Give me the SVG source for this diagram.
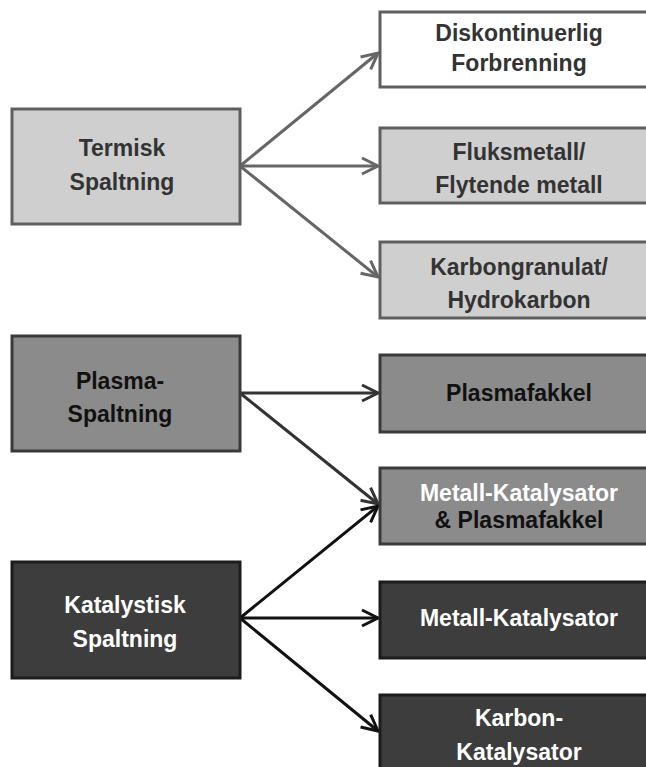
<svg xmlns="http://www.w3.org/2000/svg" width="646" height="767" viewBox="0 0 646 767">
<style>
text{font-family:"Liberation Sans",Arial,sans-serif;font-weight:bold;font-size:23px;text-anchor:middle}
.l rect{fill:#cfcfcf;stroke:#5f5f5f;stroke-width:3}
.w rect{fill:#ffffff;stroke:#5f5f5f;stroke-width:3}
.m rect{fill:#8b8b8b;stroke:#3a3a3a;stroke-width:3}
.d rect{fill:#3d3d3d;stroke:#1c1c1c;stroke-width:3}
.l text,.w text{fill:#333333}
.m text{fill:#111111}
.d text,.m text.wt{fill:#ffffff}
.c1{stroke:#666666;stroke-width:3;fill:none}
.c2{stroke:#333333;stroke-width:3;fill:none}
.c3{stroke:#111111;stroke-width:3;fill:none}
</style>
<defs>
<marker id="a1" markerUnits="userSpaceOnUse" markerWidth="24" markerHeight="24" refX="20" refY="12" orient="auto" viewBox="0 0 24 24"><path d="M4,4 L20,12 L4,20" fill="none" stroke="#666666" stroke-width="3"/></marker>
<marker id="a2" markerUnits="userSpaceOnUse" markerWidth="24" markerHeight="24" refX="20" refY="12" orient="auto" viewBox="0 0 24 24"><path d="M4,4 L20,12 L4,20" fill="none" stroke="#333333" stroke-width="3"/></marker>
<marker id="a3" markerUnits="userSpaceOnUse" markerWidth="24" markerHeight="24" refX="20" refY="12" orient="auto" viewBox="0 0 24 24"><path d="M4,4 L20,12 L4,20" fill="none" stroke="#111111" stroke-width="3"/></marker>
</defs>
<rect width="646" height="767" fill="#ffffff"/>
<g id="connectors">
<line class="c1" x1="240" y1="166" x2="378" y2="53" marker-end="url(#a1)"/>
<line class="c1" x1="240" y1="166" x2="378" y2="166" marker-end="url(#a1)"/>
<line class="c1" x1="240" y1="166" x2="378" y2="277" marker-end="url(#a1)"/>
<line class="c2" x1="240" y1="393" x2="378" y2="393" marker-end="url(#a2)"/>
<line class="c2" x1="240" y1="393" x2="378" y2="504" marker-end="url(#a2)"/>
<line class="c3" x1="240" y1="618" x2="378" y2="506" marker-end="url(#a3)"/>
<line class="c3" x1="240" y1="618" x2="378" y2="618" marker-end="url(#a3)"/>
<line class="c3" x1="240" y1="618" x2="378" y2="731" marker-end="url(#a3)"/>
</g>
<g id="termisk" class="l"><rect x="12" y="109" width="228" height="115"/><text x="122" y="156">Termisk</text><text x="122" y="190">Spaltning</text></g>
<g id="diskontinuerlig" class="w"><rect x="380" y="12" width="272" height="75"/><text x="519" y="41">Diskontinuerlig</text><text x="519" y="71">Forbrenning</text></g>
<g id="fluksmetall" class="l"><rect x="380" y="128" width="272" height="75"/><text x="519" y="160">Fluksmetall/</text><text x="519" y="193">Flytende metall</text></g>
<g id="karbongranulat" class="l"><rect x="380" y="242" width="272" height="76"/><text x="519" y="275">Karbongranulat/</text><text x="519" y="308">Hydrokarbon</text></g>
<g id="plasma" class="m"><rect x="12" y="336" width="228" height="115"/><text x="120" y="389">Plasma-</text><text x="120" y="422">Spaltning</text></g>
<g id="plasmafakkel" class="m"><rect x="380" y="355" width="272" height="77"/><text x="519" y="401">Plasmafakkel</text></g>
<g id="metall-plasma" class="m"><rect x="380" y="468" width="272" height="76"/><text class="wt" x="519" y="501">Metall-Katalysator</text><text x="519" y="528">&amp; Plasmafakkel</text></g>
<g id="katalystisk" class="d"><rect x="12" y="562" width="228" height="116"/><text x="125" y="613">Katalystisk</text><text x="125" y="647">Spaltning</text></g>
<g id="metall-katalysator" class="d"><rect x="380" y="582" width="272" height="76"/><text x="519" y="626">Metall-Katalysator</text></g>
<g id="karbon-katalysator" class="d"><rect x="380" y="695" width="272" height="95"/><text x="519" y="726">Karbon-</text><text x="519" y="760">Katalysator</text></g>
</svg>
